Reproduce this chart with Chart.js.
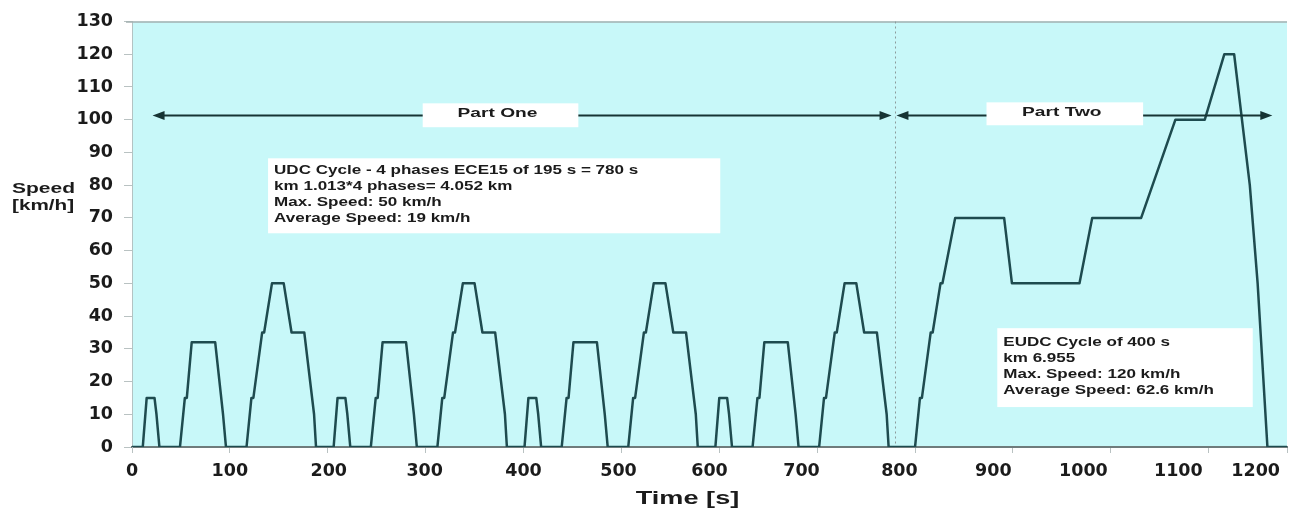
<!DOCTYPE html>
<html>
<head>
<meta charset="utf-8">
<title>NEDC driving cycle</title>
<script src="https://cdn.jsdelivr.net/npm/chart.js@4.4.1/dist/chart.umd.min.js"></script>
<style>
  html, body { margin: 0; padding: 0; background: #fff; }
  #wrap { width: 1296px; height: 515px; }
</style>
</head>
<body>
<div id="wrap"><canvas id="nedc"></canvas></div>
<script>
// Speed trace breakpoints: time [s] and speed [km/h], four ECE15 phases then the EUDC
const timeSec = [
  0, 11, 15, 23, 25, 28, 49, 54, 56, 61, 85, 93, 96, 117, 122, 124, 133, 135, 143, 155, 163, 176, 186, 188,
  195, 206, 210, 218, 220, 223, 244, 249, 251, 256, 280, 288, 291, 312, 317, 319, 328, 330, 338, 350, 358, 371, 381, 383,
  390, 401, 405, 413, 415, 418, 439, 444, 446, 451, 475, 483, 486, 507, 512, 514, 523, 525, 533, 545, 553, 566, 576, 578,
  585, 596, 600, 608, 610, 613, 634, 639, 641, 646, 670, 678, 681, 702, 707, 709, 718, 720, 728, 740, 748, 761, 771, 773,
  780, 800, 805, 807, 816, 818, 826, 828, 841, 891, 899, 968, 981, 1031, 1066, 1096, 1116, 1126, 1142, 1150, 1160, 1180
];
const speedKmh = [
  0, 0, 15, 15, 10, 0, 0, 15, 15, 32, 32, 10, 0, 0, 15, 15, 35, 35, 50, 50, 35, 35, 10, 0,
  0, 0, 15, 15, 10, 0, 0, 15, 15, 32, 32, 10, 0, 0, 15, 15, 35, 35, 50, 50, 35, 35, 10, 0,
  0, 0, 15, 15, 10, 0, 0, 15, 15, 32, 32, 10, 0, 0, 15, 15, 35, 35, 50, 50, 35, 35, 10, 0,
  0, 0, 15, 15, 10, 0, 0, 15, 15, 32, 32, 10, 0, 0, 15, 15, 35, 35, 50, 50, 35, 35, 10, 0,
  0, 0, 15, 15, 35, 35, 50, 50, 70, 70, 50, 50, 70, 70, 100, 100, 120, 120, 80, 50, 0, 0
];

// x tick labels and where the source prints them (they drift left of the true tick marks)
const xTickLabels = ['0', '100', '200', '300', '400', '500', '600', '700', '800', '900', '1000', '1100', '1200'];
const xLabelPos = [0, 100, 201, 299, 400, 497, 590, 684, 784, 880, 972, 1069, 1148];

const udcNotes = [
  'UDC Cycle - 4 phases ECE15 of 195 s = 780 s',
  'km 1.013*4 phases= 4.052 km',
  'Max. Speed: 50 km/h',
  'Average Speed: 19 km/h'
];
const eudcNotes = [
  'EUDC Cycle of 400 s',
  'km 6.955',
  'Max. Speed: 120 km/h',
  'Average Speed: 62.6 km/h'
];

// annotation placement in data units (s, km/h)
const partArrows = [
  { from: 21, to: 776, y: 101.3, label: 'Part One', box: { x0: 297, x1: 456, y0: 105, y1: 97.7 } },
  { from: 781, to: 1165, y: 101.3, label: 'Part Two', box: { x0: 873, x1: 1033, y0: 105.3, y1: 98.3 } }
];
const noteBoxes = [
  { x0: 139, x1: 601, y0: 88.2, y1: 65.3, firstLine: 12, lines: udcNotes },
  { x0: 884, x1: 1145, y0: 36.3, y1: 12.2, firstLine: 15, lines: eudcNotes }
];
const phaseSplit = 780;

const TEXT = '#1b1b1b';
const SX = 1.42; // source text is stretched horizontally
const tickFont = { family: '"DejaVu Sans", sans-serif', weight: 'bold', size: 17.5 };

function wideText(ctx, str, x, y, sx, align) {
  ctx.save();
  ctx.translate(x, y);
  ctx.scale(sx, 1);
  ctx.textAlign = align || 'left';
  ctx.textBaseline = 'middle';
  ctx.fillText(str, 0, 0);
  ctx.restore();
}

function arrowHead(ctx, x, y, dir) {
  ctx.beginPath();
  ctx.moveTo(x, y);
  ctx.lineTo(x - dir * 12, y - 4.5);
  ctx.lineTo(x - dir * 12, y + 4.5);
  ctx.closePath();
  ctx.fill();
}

const plotDecor = {
  id: 'plotDecor',
  beforeDraw(chart) {
    const { ctx, chartArea: a } = chart;
    ctx.save();
    ctx.fillStyle = '#c8f8f9';
    ctx.fillRect(a.left, a.top, a.right - a.left, a.bottom - a.top);
    ctx.restore();
  },
  beforeDatasetsDraw(chart) {
    const { ctx, chartArea: a, scales: { x } } = chart;
    ctx.save();
    ctx.strokeStyle = '#a3b1b1';
    ctx.lineWidth = 1.5;
    ctx.beginPath();
    ctx.moveTo(a.left - 6, a.top + 0.5);
    ctx.lineTo(a.right, a.top + 0.5);
    ctx.stroke();
    // dotted split between the two parts
    const px = Math.round(x.getPixelForValue(phaseSplit)) + 0.5;
    ctx.strokeStyle = '#8c9a9a';
    ctx.lineWidth = 1;
    ctx.setLineDash([2, 3]);
    ctx.beginPath();
    ctx.moveTo(px, a.top);
    ctx.lineTo(px, a.bottom);
    ctx.stroke();
    ctx.restore();
  },
  afterDatasetsDraw(chart) {
    const { ctx, scales: { x, y } } = chart;
    ctx.save();
    ctx.strokeStyle = '#163434';
    ctx.fillStyle = '#163434';
    ctx.lineWidth = 2;
    partArrows.forEach(p => {
      const py = y.getPixelForValue(p.y);
      const x0 = x.getPixelForValue(p.from);
      const x1 = x.getPixelForValue(p.to);
      ctx.beginPath();
      ctx.moveTo(x0 + 6, py);
      ctx.lineTo(x1 - 6, py);
      ctx.stroke();
      arrowHead(ctx, x0, py, -1);
      arrowHead(ctx, x1, py, 1);
    });

    ctx.fillStyle = '#ffffff';
    partArrows.forEach(p => {
      const bx0 = x.getPixelForValue(p.box.x0), bx1 = x.getPixelForValue(p.box.x1);
      const by0 = y.getPixelForValue(p.box.y0), by1 = y.getPixelForValue(p.box.y1);
      ctx.fillRect(bx0, by0, bx1 - bx0, by1 - by0);
    });
    noteBoxes.forEach(b => {
      const bx0 = x.getPixelForValue(b.x0), bx1 = x.getPixelForValue(b.x1);
      const by0 = y.getPixelForValue(b.y0), by1 = y.getPixelForValue(b.y1);
      ctx.fillRect(bx0, by0, bx1 - bx0, by1 - by0);
    });

    ctx.fillStyle = TEXT;
    ctx.font = 'bold 13.5px "Liberation Sans", Arial, sans-serif';
    partArrows.forEach(p => {
      const cx = (x.getPixelForValue(p.box.x0) + x.getPixelForValue(p.box.x1)) / 2;
      const cy = (y.getPixelForValue(p.box.y0) + y.getPixelForValue(p.box.y1)) / 2 - 1.5;
      wideText(ctx, p.label, cx - 3, cy, SX, 'center');
    });
    ctx.font = 'bold 12px "Liberation Sans", Arial, sans-serif';
    noteBoxes.forEach(b => {
      const left = x.getPixelForValue(b.x0) + 6;
      const top = y.getPixelForValue(b.y0);
      b.lines.forEach((line, i) => wideText(ctx, line, left, top + b.firstLine + i * 16, SX));
    });
    ctx.restore();
  },
  afterDraw(chart) {
    const { ctx, chartArea: a } = chart;
    ctx.save();
    ctx.fillStyle = TEXT;
    ctx.font = 'bold 15px "Liberation Sans", Arial, sans-serif';
    wideText(ctx, 'Speed', 12, 189, 1.4);
    wideText(ctx, '[km/h]', 12, 206, 1.38);
    ctx.font = 'bold 17.5px "Liberation Sans", Arial, sans-serif';
    wideText(ctx, 'Time [s]', (a.left + a.right) / 2 - 22, 499, 1.55, 'center');
    ctx.restore();
  }
};

new Chart(document.getElementById('nedc'), {
  type: 'scatter',
  data: {
    datasets: [{
      label: 'Speed',
      data: timeSec.map((t, i) => ({ x: t, y: speedKmh[i] })),
      showLine: true,
      borderColor: '#1e4b4f',
      borderWidth: 2.5,
      borderJoinStyle: 'round',
      pointRadius: 0,
      pointHoverRadius: 0,
      tension: 0
    }]
  },
  options: {
    responsive: true,
    maintainAspectRatio: false,
    animation: false,
    layout: { padding: { top: 21, right: 9, left: 0, bottom: 0 } },
    scales: {
      x: {
        type: 'linear',
        weight: 0,
        min: 0,
        max: 1180,
        afterFit: (scale) => { scale.height = 6; },
        ticks: { stepSize: 100, display: false },
        grid: {
          drawOnChartArea: false,
          drawTicks: true,
          tickLength: 6,
          tickColor: '#b9c2c2'
        },
        border: { display: true, color: '#6f7c7c', width: 2 }
      },
      xLabels: {
        type: 'linear',
        position: 'bottom',
        weight: 1,
        min: 0,
        max: 1180,
        afterFit: (scale) => { scale.height = 62; },
        afterBuildTicks: (scale) => { scale.ticks = xLabelPos.map(v => ({ value: v })); },
        ticks: {
          padding: 8,
          color: TEXT,
          font: tickFont,
          maxRotation: 0,
          autoSkip: false,
          callback: (value, index) => xTickLabels[index]
        },
        grid: { display: false, drawTicks: false },
        border: { display: false }
      },
      y: {
        min: 0,
        max: 130,
        afterFit: (scale) => { scale.width = 132; },
        ticks: {
          stepSize: 10,
          padding: 11,
          color: TEXT,
          font: tickFont
        },
        grid: {
          drawOnChartArea: false,
          drawTicks: true,
          tickLength: 8,
          tickColor: '#b9c2c2'
        },
        border: { display: true, color: '#b3c3c3', width: 1 }
      }
    },
    plugins: {
      legend: { display: false },
      tooltip: { enabled: false }
    }
  },
  plugins: [plotDecor]
});
</script>
</body>
</html>
